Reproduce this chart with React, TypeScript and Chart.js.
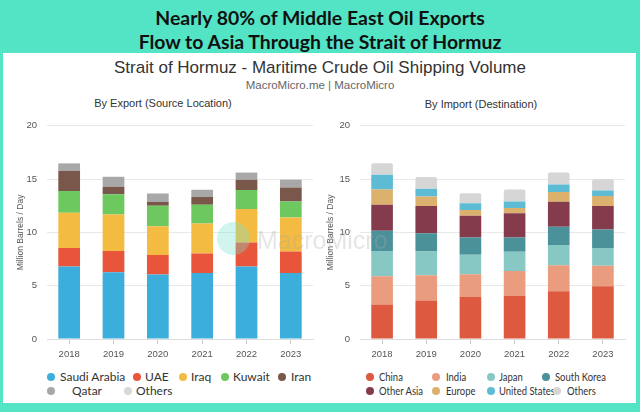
import React, { useEffect, useRef } from "react";
import { Chart, registerables } from "chart.js";

Chart.register(...registerables);

// ---- data (million barrels per day) ----
const years = ["2018", "2019", "2020", "2021", "2022", "2023"];

const exportNames = ["Saudi Arabia", "UAE", "Iraq", "Kuwait", "Iran", "Qatar", "Others"];
const saudiArabia = [6.8, 6.25, 6.04, 6.19, 6.8, 6.19];
const uae = [1.74, 2.01, 1.83, 1.83, 2.25, 2.01];
const iraq = [3.29, 3.42, 2.71, 2.8, 3.15, 3.2];
const kuwait = [2.04, 1.89, 1.92, 1.77, 1.76, 1.5];
const iran = [1.89, 0.7, 0.34, 0.73, 0.98, 1.3];
const qatar = [0.7, 0.91, 0.79, 0.64, 0.64, 0.74];
const exportOthers = [0.05, 0.05, 0.05, 0.05, 0.05, 0.05];

const importNames = ["China", "India", "Japan", "South Korea", "Other Asia", "Europe", "United States", "Others"];
const china = [3.23, 3.6, 3.93, 4.05, 4.48, 4.94];
const india = [2.65, 2.38, 2.14, 2.32, 2.44, 1.92];
const japan = [2.38, 2.22, 1.83, 1.8, 1.89, 1.68];
const southKorea = [1.89, 1.71, 1.61, 1.34, 1.71, 1.73];
const otherAsia = [2.44, 2.56, 2.04, 2.29, 2.35, 2.2];
const europe = [1.43, 0.88, 0.55, 0.49, 0.91, 0.94];
const unitedStates = [1.38, 0.74, 0.64, 0.61, 0.7, 0.52];
const importOthers = [1.09, 1.09, 0.92, 1.12, 1.13, 1.04];

const yTicks = [0, 5, 10, 15, 20];

// ---- styling ----
const exportColors = ["#3caedb", "#e8553b", "#f4bb42", "#6dc95f", "#7a574b", "#a8a8a8", "#d8d8d8"];
const importColors = ["#dd5a40", "#ea9c7e", "#88c8c4", "#4a9199", "#843c4c", "#dcb16e", "#5dbcd4", "#d6d6d6"];

const exportSeries = [saudiArabia, uae, iraq, kuwait, iran, qatar, exportOthers];
const importSeries = [china, india, japan, southKorea, otherAsia, europe, unitedStates, importOthers];

const TEAL = "#52e4c4";
const SANS = "'Liberation Sans', Arial, Helvetica, sans-serif";
const LATO = "Lato, 'Open Sans', sans-serif";

type Layout = { yWidth: number; padRight: number };

function buildConfig(names: string[], series: number[][], colors: string[], layout: Layout): any {
  return {
    type: "bar",
    data: {
      labels: years,
      datasets: names.map((name, i) => ({
        label: name,
        data: series[i],
        backgroundColor: colors[i],
        borderWidth: 0,
        borderSkipped: "bottom",
        borderRadius: i === names.length - 1 ? { topLeft: 2, topRight: 2 } : 0,
        barPercentage: 0.49,
        categoryPercentage: 1,
      })),
    },
    options: {
      responsive: true,
      maintainAspectRatio: false,
      animation: false,
      layout: { padding: { top: 11, right: layout.padRight, left: 0, bottom: 0 } },
      plugins: { legend: { display: false }, tooltip: { enabled: false }, title: { display: false } },
      scales: {
        x: {
          stacked: true,
          grid: {
            offset: false,
            drawOnChartArea: false,
            drawTicks: true,
            tickLength: 5,
            color: "#cccccc",
          },
          border: { display: true, color: "#dddddd" },
          ticks: { color: "#555", font: { family: SANS, size: 9.5 }, padding: 5 },
          afterFit: (s: any) => {
            s.height = 22;
          },
        },
        y: {
          stacked: true,
          min: 0,
          max: 20,
          afterBuildTicks: (s: any) => {
            s.ticks = yTicks.map((v) => ({ value: v }));
          },
          grid: { color: "#e8e8e8", drawTicks: false, lineWidth: 1 },
          border: { display: false },
          ticks: { color: "#555", font: { family: SANS, size: 9.5 }, padding: 10 },
          title: {
            display: true,
            text: "Million Barrels / Day",
            color: "#555",
            font: { family: SANS, size: 8.5 },
            padding: { top: 6, bottom: 4 },
          },
          afterFit: (s: any) => {
            s.width = layout.yWidth;
          },
        },
      },
    },
  };
}

function BarPanel(props: { names: string[]; series: number[][]; colors: string[]; layout: Layout; style: React.CSSProperties }) {
  const ref = useRef<HTMLCanvasElement | null>(null);
  useEffect(() => {
    if (!ref.current) return;
    const chart = new Chart(ref.current, buildConfig(props.names, props.series, props.colors, props.layout));
    return () => chart.destroy();
  }, []);
  return (
    <div style={{ position: "absolute", ...props.style }}>
      <canvas ref={ref} />
    </div>
  );
}

type LegendSpot = { dot: number; text: number; row: number };

function Legend(props: { names: string[]; colors: string[]; spots: LegendSpot[]; rows: number[]; font: number; squeeze: number }) {
  return (
    <>
      {props.names.map((name, i) => {
        const s = props.spots[i];
        const cy = props.rows[s.row];
        return (
          <React.Fragment key={name}>
            <div
              style={{
                position: "absolute",
                left: s.dot - 4,
                top: cy - 4,
                width: 8,
                height: 8,
                borderRadius: "50%",
                background: props.colors[i],
              }}
            />
            <div
              style={{
                position: "absolute",
                left: s.text,
                top: cy - 8,
                height: 16,
                lineHeight: "16px",
                fontFamily: LATO,
                fontSize: props.font,
                color: "#333",
                whiteSpace: "nowrap",
                transform: `scaleX(${props.squeeze})`,
                transformOrigin: "left center",
              }}
            >
              {name}
            </div>
          </React.Fragment>
        );
      })}
    </>
  );
}

const exportSpots: LegendSpot[] = [
  { dot: 51, text: 60, row: 0 },
  { dot: 137, text: 145, row: 0 },
  { dot: 183, text: 191, row: 0 },
  { dot: 225, text: 233, row: 0 },
  { dot: 282, text: 291, row: 0 },
  { dot: 51, text: 72, row: 1 },
  { dot: 128, text: 136, row: 1 },
];

const importSpots: LegendSpot[] = [
  { dot: 370, text: 379, row: 0 },
  { dot: 436, text: 446, row: 0 },
  { dot: 491, text: 499, row: 0 },
  { dot: 546, text: 555, row: 0 },
  { dot: 370, text: 379, row: 1 },
  { dot: 436, text: 446, row: 1 },
  { dot: 491, text: 499, row: 1 },
  { dot: 557, text: 567, row: 1 },
];

export default function App() {
  const centered = (top: number, size: number, extra: React.CSSProperties = {}): React.CSSProperties => ({
    position: "absolute",
    left: 0,
    width: 640,
    top: top - size * 0.6,
    height: size * 1.2,
    lineHeight: `${size * 1.2}px`,
    fontSize: size,
    textAlign: "center",
    whiteSpace: "nowrap",
    ...extra,
  });

  return (
    <div style={{ position: "absolute", left: 0, top: 0, width: 640, height: 412, background: TEAL, overflow: "hidden" }}>
      <div style={centered(18, 19.4, { fontFamily: LATO, fontWeight: 700, color: "#111" })}>Nearly 80% of Middle East Oil Exports</div>
      <div style={centered(42, 19.4, { fontFamily: LATO, fontWeight: 700, color: "#111" })}>Flow to Asia Through the Strait of Hormuz</div>

      <div style={{ position: "absolute", left: 3, top: 53, width: 633, height: 350, background: "#fff" }} />

      <div style={centered(68, 17, { fontFamily: SANS, color: "#333" })}>Strait of Hormuz - Maritime Crude Oil Shipping Volume</div>
      <div style={centered(86, 11.5, { fontFamily: SANS, color: "#666" })}>MacroMicro.me | MacroMicro</div>

      <div style={{ ...centered(104, 11, { fontFamily: SANS, color: "#333" }), left: 63, width: 200 }}>By Export (Source Location)</div>
      <div style={{ ...centered(105, 11, { fontFamily: SANS, color: "#333" }), left: 381, width: 200 }}>By Import (Destination)</div>

      <BarPanel
        names={exportNames}
        series={exportSeries}
        colors={exportColors}
        layout={{ yWidth: 37, padRight: 7 }}
        style={{ left: 10, top: 110, width: 310, height: 251 }}
      />
      <BarPanel
        names={importNames}
        series={importSeries}
        colors={importColors}
        layout={{ yWidth: 40, padRight: 5 }}
        style={{ left: 320, top: 110, width: 310, height: 251 }}
      />

      {/* faint brand watermark across the middle */}
      <div
        style={{
          position: "absolute",
          left: 217,
          top: 222,
          width: 33,
          height: 33,
          borderRadius: "50%",
          background: "rgba(120, 225, 205, 0.35)",
          pointerEvents: "none",
        }}
      />
      <div
        style={{
          position: "absolute",
          left: 257,
          top: 224,
          height: 32,
          lineHeight: "32px",
          fontFamily: SANS,
          fontSize: 25,
          color: "rgba(170, 170, 170, 0.3)",
          pointerEvents: "none",
          whiteSpace: "nowrap",
        }}
      >
        MacroMicro
      </div>

      <Legend names={exportNames} colors={exportColors} spots={exportSpots} rows={[377, 391]} font={12} squeeze={1} />
      <Legend names={importNames} colors={importColors} spots={importSpots} rows={[377, 391]} font={11} squeeze={0.86} />
    </div>
  );
}
